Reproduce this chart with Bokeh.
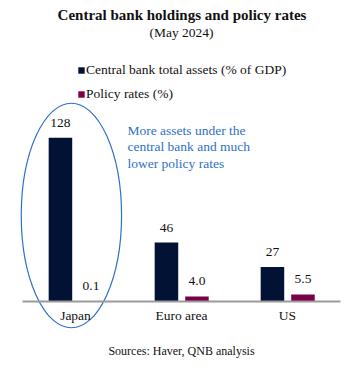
from bokeh.plotting import figure
from bokeh.models import (Range1d, FixedTicker, Label, Legend, LegendItem, ColumnDataSource, LabelSet)
from bokeh.transform import dodge
from bokeh.embed import file_html
from bokeh.resources import INLINE

categories = ["Japan", "Euro area", "US"]
assets = [128, 46, 27]          # Central bank total assets (% of GDP)
policy_rates = [0.1, 4.0, 5.5]  # Policy rates (%)

FONT = "Liberation Serif"
NAVY = "#011235"
MAROON = "#7a0049"
BLUE = "#2e70c6"
W, H = 358, 358

# helpers: canvas pixel -> data
def xd(px):
    return (px - 75) / 106.0

def yd(py):
    return (301 - py) / 1.28

pos = list(range(len(categories)))
src = ColumnDataSource(dict(
    x=pos,
    assets=assets,
    rates=policy_rates,
    assets_lbl=[f"{v:d}" for v in assets],
    rates_lbl=[f"{v:.1f}" for v in policy_rates],
))

p = figure(frame_width=W, frame_height=H,
           x_range=Range1d(xd(0), xd(W)), y_range=Range1d(yd(H), yd(0)),
           output_backend="svg", toolbar_location=None,
           min_border=0, outline_line_color=None)
p.background_fill_color = "white"
p.yaxis.visible = False
p.grid.visible = False

xa = p.xaxis[0]
xa.fixed_location = 0
xa.bounds = (-0.5, 2.5)
xa.ticker = FixedTicker(ticks=pos)
xa.major_label_overrides = {i: c for i, c in zip(pos, categories)}
xa.major_tick_line_color = None
xa.minor_tick_line_color = None
xa.axis_line_color = "#9a9a9a"
xa.axis_line_width = 2
xa.major_label_text_font = FONT
xa.major_label_text_font_size = "13.5px"
xa.major_label_text_color = "#111111"
xa.major_label_standoff = 0

r1 = p.vbar(x=dodge("x", -0.142, range=p.x_range), top="assets", width=0.222,
            source=src, fill_color=NAVY, line_color=None)
r2 = p.vbar(x=dodge("x", 0.146, range=p.x_range), top="rates", width=0.222,
            source=src, fill_color=MAROON, line_color=None)

for col, off, lbl in [("assets", -0.142, "assets_lbl"), ("rates", 0.146, "rates_lbl")]:
    ls = LabelSet(x=dodge("x", off, range=p.x_range), y=col, text=lbl, source=src,
                  text_align="center", text_baseline="bottom", y_offset=11,
                  text_font=FONT, text_font_size="13.5px", text_color="#111111")
    p.add_layout(ls)

p.ellipse(x=[xd(70.9)], y=[yd(215)], width=100.3 / 106.0, height=224.6 / 1.28,
          fill_color=None, line_color=BLUE, line_width=1.2)

p.add_layout(Label(x=xd(181.5), y=yd(14.5), text="Central bank holdings and policy rates",
                   text_align="center", text_baseline="middle", text_font=FONT,
                   text_font_style="bold", text_font_size="15px", text_color="#111111"))
p.add_layout(Label(x=xd(181), y=yd(32), text="(May 2024)",
                   text_align="center", text_baseline="middle", text_font=FONT,
                   text_font_size="13.5px", text_color="#111111"))

p.add_layout(Label(x=xd(127), y=yd(122),
                   text="More assets under the\ncentral bank and much\nlower policy rates",
                   text_align="left", text_baseline="top", text_font=FONT,
                   text_font_size="13.5px", text_color=BLUE, text_line_height=1.12))

p.add_layout(Label(x=xd(181), y=yd(350), text="Sources: Haver, QNB analysis",
                   text_align="center", text_baseline="middle", text_font=FONT,
                   text_font_size="12px", text_color="#111111"))

legend = Legend(items=[LegendItem(label="Central bank total assets (% of GDP)", renderers=[r1]),
                       LegendItem(label="Policy rates (%)", renderers=[r2])],
                location=(77, H - 102), orientation="vertical",
                glyph_width=8, glyph_height=8, label_standoff=1,
                label_height=16, spacing=8, padding=0, margin=0,
                border_line_color=None, background_fill_alpha=0,
                label_text_font=FONT, label_text_font_size="13.5px",
                label_text_color="#111111")
p.add_layout(legend, "center")

open("out.html", "w").write(file_html(p, INLINE))
